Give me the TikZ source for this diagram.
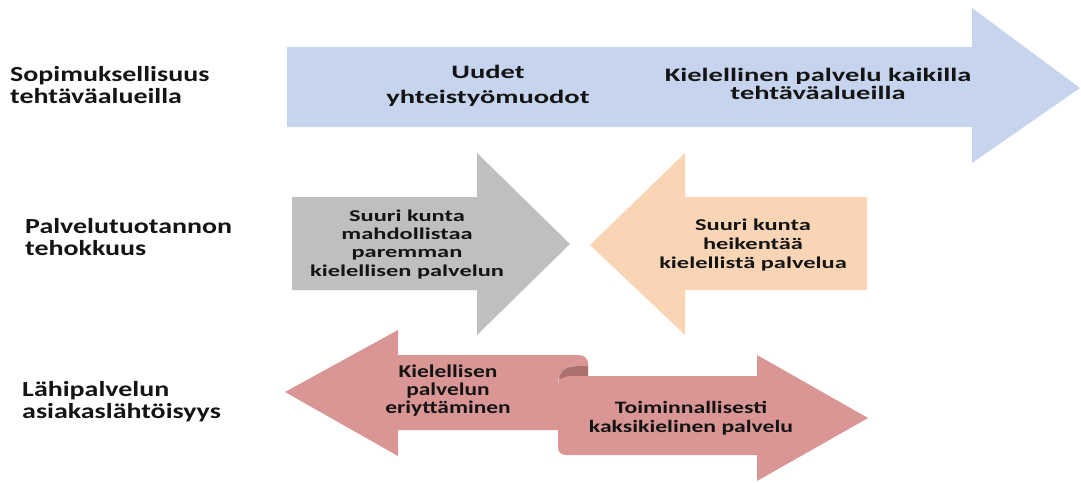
\documentclass[tikz,border=0pt]{standalone}
\usepackage{fontspec}
\setmainfont{Carlito}
\newfontfamily\lblf{Carlito}[FakeStretch=1.3]
\newfontfamily\topf{Carlito}[FakeStretch=1.5]
\newfontfamily\midf{Carlito}[FakeStretch=1.48]
\newfontfamily\botlf{Carlito}[FakeStretch=1.3]
\newfontfamily\botrf{Carlito}[FakeStretch=1.36]
\definecolor{blueA}{RGB}{198,213,237}
\definecolor{grayA}{RGB}{191,191,191}
\definecolor{peachA}{RGB}{250,213,181}
\definecolor{pinkA}{RGB}{217,150,148}
\definecolor{pinkD}{RGB}{172,112,110}
\definecolor{textc}{RGB}{20,20,20}
\begin{document}
\begin{tikzpicture}[x=1pt,y=-1pt,
  txt/.style={inner sep=0pt, align=center, text=textc, anchor=base},
  lbl/.style={inner sep=0pt, align=left, text=textc, anchor=base west,
    font=\lblf\bfseries\fontsize{21.5}{22}\selectfont}]
\useasboundingbox (0,0) rectangle (1081,482);
\fill[white] (0,0) rectangle (1081,482);

% top arrow
\fill[blueA] (287,47) -- (972,47) -- (972,8) -- (1080,88) -- (972,163) -- (972,127) -- (287,127) -- cycle;

% middle arrows
\fill[grayA] (292,197) -- (477,197) -- (477,153) -- (570,244) -- (477,335) -- (477,290) -- (292,290) -- cycle;
\fill[peachA] (867,197) -- (685,197) -- (685,153) -- (590,245) -- (685,335) -- (685,290) -- (867,290) -- cycle;

% bottom scroll arrows
\fill[pinkA] (285,392) -- (398,330) -- (398,355) -- (578,355)
  .. controls (584,355) and (588,358) .. (588,364) -- (588,374) -- (565,374) -- (565,430)
  -- (398,430) -- (398,456) -- cycle;
\fill[pinkD] (559,379) .. controls (559,369) and (566,366) .. (576,366) -- (588,366) -- (588,377) -- cycle;
\fill[pinkA] (566,455) -- (757,455) -- (757,481) -- (868,418) -- (757,355) -- (757,376)
  -- (572,376) .. controls (564,376) and (558,379) .. (558,385) -- (558,447)
  .. controls (558,452) and (561,455) .. (566,455) -- cycle;
\draw[white, opacity=0.5, line width=0.6pt] (558,385) .. controls (558,370) and (566,366) .. (576,366);

% labels (anchor = baseline of last line)
\node[lbl] (l1) at (10,103) {Sopimuksellisuus\\teht\"av\"aalueilla};
\node[lbl] (l2) at (25,255) {Palvelutuotannon\\tehokkuus};
\node[lbl] (l3) at (22,418) {L\"ahipalvelun\\asiakasl\"aht\"oisyys};

% texts
\node[txt, font=\topf\bfseries\fontsize{19}{25}\selectfont] (t1) at (488,103) {Uudet\\yhteisty\"omuodot};
\node[txt, font=\topf\bfseries\fontsize{19}{18}\selectfont] (t2) at (818,99) {Kielellinen palvelu kaikilla\\teht\"av\"aalueilla};
\node[txt, font=\midf\bfseries\fontsize{16.5}{18.3}\selectfont] (m1) at (407,276) {Suuri kunta\\mahdollistaa\\paremman\\kielellisen palvelun};
\node[txt, font=\midf\bfseries\fontsize{16.5}{18.7}\selectfont] (m2) at (753,268) {Suuri kunta\\heikent\"a\"a\\kielellist\"a palvelua};
\node[txt, font=\botlf\bfseries\fontsize{18}{18}\selectfont] (b1) at (448,413) {Kielellisen\\palvelun\\eriytt\"aminen};
\node[txt, font=\botrf\bfseries\fontsize{17.4}{19}\selectfont] (b2) at (691,432) {Toiminnallisesti\\kaksikielinen palvelu};
\end{tikzpicture}
\end{document}
